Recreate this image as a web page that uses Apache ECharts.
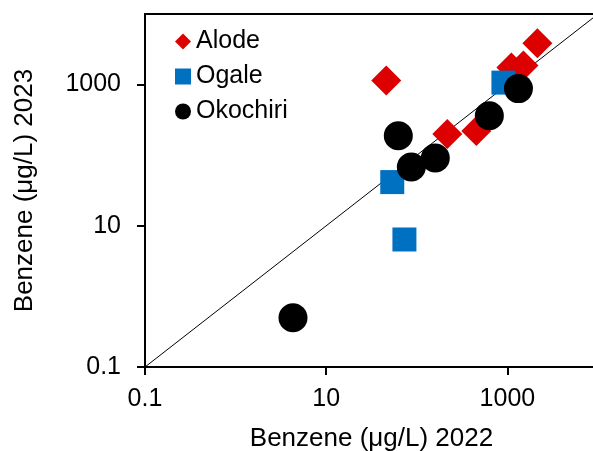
<!DOCTYPE html>
<html>
<head>
<meta charset="utf-8">
<script src="https://cdn.jsdelivr.net/npm/echarts@6/dist/echarts.min.js"></script>
<style>
  html, body { margin: 0; padding: 0; background: #fff; }
  #chart { width: 593px; height: 451px; }
</style>
</head>
<body>
<div id="chart"></div>
<script>
// benzene (µg/L), [2022, 2023]
const alode = [
  [46, 1140],
  [217, 200],
  [454, 221],
  [1107, 1746],
  [1503, 1862],
  [2143, 3838],
]
const ogale = [
  [53.6, 41.6],
  [73, 6.4],
  [904, 1067],
]
const okochiri = [
  [4.3, 0.5],
  [62.5, 188],
  [87, 68],
  [160, 91],
  [632, 362],
  [1324, 877],
]
const oneToOne = [
  [0.1, 0.1],
  [10000, 10000],
]

const chart = echarts.init(document.getElementById('chart'))

const titleStyle = {
  fontFamily: 'Liberation Sans',
  fontSize: 26,
  color: '#000',
}

const axisCommon = {
  type: 'log',
  logBase: 10,
  min: 0.1,
  max: 10000,
  interval: 2,
  nameLocation: 'middle',
  nameTextStyle: titleStyle,
  axisLine: {
    onZero: false,
    lineStyle: { color: '#000', width: 2 },
  },
  axisTick: {
    show: true,
    length: 8,
    lineStyle: { color: '#000', width: 2 },
  },
  axisLabel: {
    fontFamily: 'Liberation Sans',
    fontSize: 25,
    color: '#000',
    showMaxLabel: false,
    formatter: (v) => String(v),
  },
  splitLine: { show: false },
  minorTick: { show: false },
}

chart.setOption({
  animation: false,
  grid: {
    left: 145,
    right: -5,
    top: 14,
    bottom: 84,
    outerBoundsMode: 'none',
    show: true,
    borderColor: '#000',
    borderWidth: 2,
  },
  legend: {
    orient: 'vertical',
    left: 170,
    top: 24,
    itemWidth: 16,
    itemHeight: 16,
    itemGap: 10,
    textStyle: {
      fontFamily: 'Liberation Sans',
      fontSize: 25,
      color: '#000',
    },
    data: [
      { name: 'Alode', icon: 'diamond' },
      { name: 'Ogale', icon: 'rect' },
      { name: 'Okochiri', icon: 'circle' },
    ],
  },
  xAxis: {
    ...axisCommon,
    axisLabel: { ...axisCommon.axisLabel, margin: 20 },
    name: 'Benzene (μg/L) 2022',
    nameGap: 59,
  },
  yAxis: {
    ...axisCommon,
    axisLabel: { ...axisCommon.axisLabel, margin: 24 },
    name: 'Benzene (μg/L) 2023',
    nameGap: 107,
  },
  series: [
    {
      name: 'line',
      type: 'line',
      data: oneToOne,
      symbol: 'none',
      silent: true,
      lineStyle: { color: '#000', width: 1 },
      z: 1,
    },
    {
      name: 'Alode',
      type: 'scatter',
      data: alode,
      symbol: 'diamond',
      symbolSize: 30,
      itemStyle: { color: '#DD0000', opacity: 1 },
      z: 2,
    },
    {
      name: 'Ogale',
      type: 'scatter',
      data: ogale,
      symbol: 'rect',
      symbolSize: 24,
      itemStyle: { color: '#0070C0', opacity: 1 },
      z: 3,
    },
    {
      name: 'Okochiri',
      type: 'scatter',
      data: okochiri,
      symbol: 'circle',
      symbolSize: 29,
      itemStyle: { color: '#000', opacity: 1 },
      z: 4,
    },
  ],
})
</script>
</body>
</html>
